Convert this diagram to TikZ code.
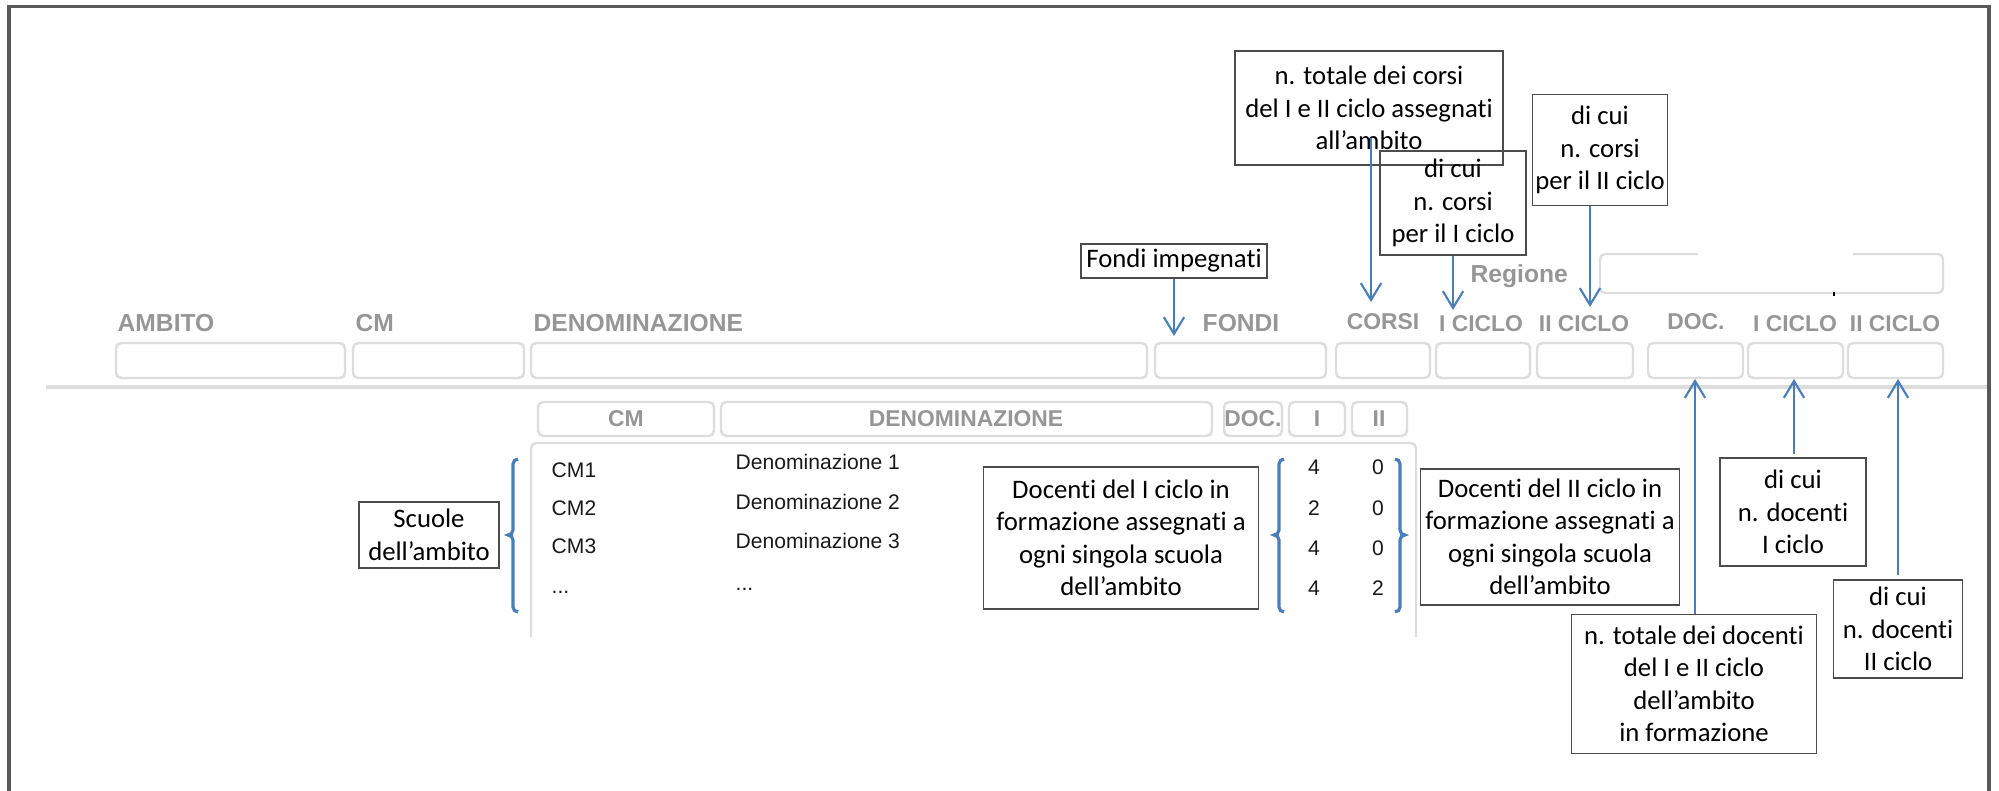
\documentclass[tikz,border=0pt]{standalone}
\usepackage{fontspec}
\usepackage{tikz}
\usetikzlibrary{positioning, calc, arrows.meta}
\newfontfamily\calibri[Ligatures=NoCommon]{Carlito}
\newfontfamily\arial{Liberation Sans}
\definecolor{cornice}{RGB}{89,89,89}
\definecolor{grigiohdr}{RGB}{150,150,150}
\definecolor{bordo}{RGB}{221,221,221}
\definecolor{blu}{RGB}{74,126,187}

\begin{document}
\begin{tikzpicture}[x=0.01cm, y=-0.01cm, >={Straight Barb[length=4.8pt,width=5.8pt]},
				callout/.style={draw=black!70, line width=0.45pt, inner sep=0pt, align=center,
					font=\calibri\fontsize{7.6}{9.25}\selectfont},
				freccia/.style={->, draw=blu, line width=0.6pt},
				graffa/.style={draw=blu, line width=0.9pt},
				campo/.style={draw=bordo, line width=0.7pt, rounded corners=1.5pt},
				etich/.style={font=\arial\bfseries\fontsize{7}{8}\selectfont, text=grigiohdr, inner sep=0pt},
				etichp/.style={font=\arial\bfseries\fontsize{6.5}{8}\selectfont, text=grigiohdr, inner sep=0pt},
				dato/.style={font=\arial\fontsize{6}{7}\selectfont, text=black!90, inner sep=0pt}]
				\useasboundingbox (0,0) rectangle (1999,791);
				
				%cornice e separatore
				\draw[cornice, line width=1.1pt] (9,791) -- (9,6.5) -- (1989,6.5) -- (1989,791);
				\draw[bordo, line width=0.9pt] (46,387) -- (1987,387);
				
				%campi dell'ambito
				\foreach \xa/\xb in {116/345, 353/524, 531/1147, 1155/1326, 1336/1430,
					1436/1530, 1537/1633, 1648/1743, 1748/1843, 1848/1943}
				\draw[campo] (\xa,343) rectangle (\xb,378);
				\draw[campo] (1600,254) rectangle (1943,293);
				\fill[white] (1698,250) rectangle (1853,257);
				\draw[black, line width=0.5pt] (1834,292) -- (1834,296);
				
				\node[etich, anchor=base west] (hAmbito) at (117,331) {AMBITO};
				\node[etich, anchor=base west] (hCm)     at (355,331) {CM};
				\node[etich, anchor=base west] (hDen)    at (533,331) {DENOMINAZIONE};
				\node[etich, anchor=base]      (hFondi)  at (1241,331) {FONDI};
				\node[etichp, anchor=base]     (hCorsi)  at (1383,330) {CORSI};
				\node[etichp, anchor=base]     (hCorsiI) at (1481,332) {I CICLO};
				\node[etichp, anchor=base]     (hCorsiII) at (1584,332) {II CICLO};
				\node[etichp, anchor=base]     (hDoc)    at (1696,330) {DOC.};
				\node[etichp, anchor=base]     (hDocI)   at (1795,332) {I CICLO};
				\node[etichp, anchor=base]     (hDocII)  at (1895,332) {II CICLO};
				\node[etich, anchor=base west] (hReg)    at (1470,283) {Regione};
				
				%elenco scuole
				\foreach \xa/\xb in {538/714, 721/1212, 1224/1282, 1289/1345, 1352/1407}
				\draw[campo] (\xa,402) rectangle (\xb,436);
				\node[etichp] (sCm)  at (626,419)  {CM};
				\node[etichp] (sDen) at (966,419)  {DENOMINAZIONE};
				\node[etichp] (sDoc) at (1253,419) {DOC.};
				\node[etichp] (sI)   at (1317,419) {I};
				\node[etichp] (sII)  at (1379,419) {II};
				\draw[campo] (531,637) -- (531,443) -- (1416,443) -- (1416,637);
				
				\foreach \r/\yc/\yd in {1/477/469, 2/515/509, 3/554/548} {
					\node[dato, anchor=base west] (cm\r)  at (551,\yc) {CM\r};
					\node[dato, anchor=base west] (den\r) at (735,\yd) {Denominazione \r};
				}
				\node[dato, anchor=base west] (cm4)  at (551,593) {...};
				\node[dato, anchor=base west] (den4) at (735,590) {...};
				\foreach \r/\yb/\a/\b in {1/475/4/0, 2/515/2/0, 3/555/4/0, 4/595/4/2} {
					\node[dato, anchor=base] (nI\r)  at (1314,\yb) {\a};
					\node[dato, anchor=base] (nII\r) at (1378,\yb) {\b};
				}
				
				%graffe
				\draw[graffa] (518,459) to[out=180,in=90] (513,464) -- (513,530) to[out=-90,in=0] (508,535)
				to[out=0,in=90] (513,540) -- (513,607) to[out=-90,in=180] (518,612);
				\draw[graffa] (1284,459) to[out=180,in=90] (1279,464) -- (1279,530) to[out=-90,in=0] (1274,535)
				to[out=0,in=90] (1279,540) -- (1279,607) to[out=-90,in=180] (1284,612);
				\draw[graffa] (1395,459) to[out=0,in=90] (1400,464) -- (1400,530) to[out=-90,in=180] (1405,535)
				to[out=180,in=90] (1400,540) -- (1400,607) to[out=-90,in=0] (1395,612);
				
				%riquadri di spiegazione
				\node[callout, minimum width=1.86cm, minimum height=0.34cm] (fondiImp) at (1174,261) {Fondi impegnati};
				\node[callout, minimum width=2.68cm, minimum height=1.14cm] (totCorsi) at (1369,108)
				{n. totale dei corsi\\del I e II ciclo assegnati\\all’ambito};
				\node[callout, minimum width=1.46cm, minimum height=1.04cm] (corsiI) at (1453,203)
				{di cui\\n. corsi\\per il I ciclo};
				\node[callout, minimum width=1.35cm, minimum height=1.11cm] (corsiII) at (1600,150)
				{di cui\\n. corsi\\per il II ciclo};
				\node[callout, minimum width=1.40cm, minimum height=0.66cm] (scuole) at (429,535)
				{Scuole\\dell’ambito};
				\node[callout, minimum width=2.75cm, minimum height=1.42cm] (docI) at (1121,538)
				{Docenti del I ciclo in\\formazione assegnati a\\ogni singola scuola\\dell’ambito};
				\node[callout, minimum width=2.59cm, minimum height=1.36cm] (docII) at (1550,537)
				{Docenti del II ciclo in\\formazione assegnati a\\ogni singola scuola\\dell’ambito};
				\node[callout, minimum width=2.45cm, minimum height=1.39cm] (totDoc) at (1694,684)
				{n. totale dei docenti\\del I e II ciclo\\dell’ambito\\in formazione};
				\node[callout, minimum width=1.46cm, minimum height=1.08cm] (dicuiI) at (1793,512)
				{di cui\\n. docenti\\I ciclo};
				\node[callout, minimum width=1.29cm, minimum height=0.98cm] (dicuiII) at (1898,629)
				{di cui\\n. docenti\\II ciclo};
				
				%frecce
				\coordinate (pFondi) at (1174,336);
				\coordinate (pCorsi) at (1371,302);
				\coordinate (pCorsiI) at (1453,310);
				\coordinate (pCorsiII) at (1590,307);
				\coordinate (pDoc) at (1695,379);
				\coordinate (pDocI) at (1794,379);
				\coordinate (pDocII) at (1898,379);
				\draw[freccia] (fondiImp.south) -- (pFondi);
				\draw[freccia] ($(totCorsi.south)+(2,-28)$) -- (pCorsi);
				\draw[freccia] (corsiI.south) -- (pCorsiI);
				\draw[freccia] (corsiII.south -| pCorsiII) -- (pCorsiII);
				\draw[freccia] (totDoc.north -| pDoc) -- (pDoc);
				\draw[freccia] ($(dicuiI.north -| pDocI)+(0,-3)$) -- (pDocI);
				\draw[freccia] ($(dicuiII.north -| pDocII)+(0,-4)$) -- (pDocII);
			\end{tikzpicture}
\end{document}
